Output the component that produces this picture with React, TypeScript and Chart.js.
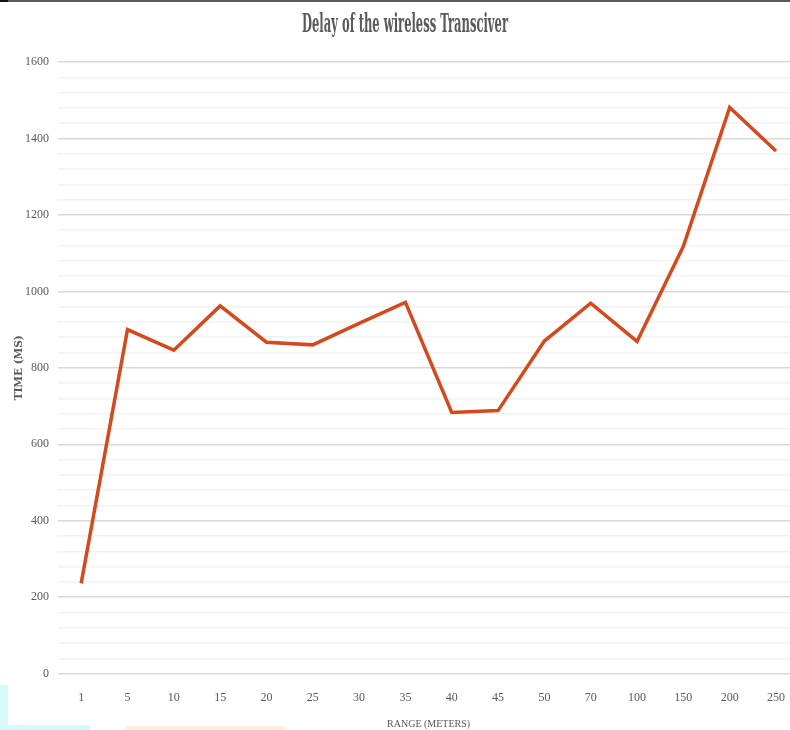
import React, { useEffect, useRef } from "react";
import { Chart, registerables } from "chart.js";

Chart.register(...registerables);

// Range in metres (category labels along the x axis)
const rangeLabels = ["1", "5", "10", "15", "20", "25", "30", "35", "40", "45", "50", "70", "100", "150", "200", "250"];
// Measured delay in ms for each range
const delayMs = [236, 900, 846, 962, 867, 860, 916, 971, 683, 688, 870, 969, 869, 1118, 1481, 1367];

const chartTitle = "Delay of the wireless Transciver";
const yAxisTitle = "TIME (MS)";
const xAxisTitle = "RANGE (METERS)";
const yMin = 0;
const yMax = 1600;
const yMajorStep = 200;
const yMinorStep = 40;

const textColor = "#595959";
const lineColor = "#d24b1e";

// Condensed heading drawn straight onto the canvas, squeezed horizontally
const condensedTitle = {
  id: "condensedTitle",
  afterDraw(chart: any) {
    const ctx = chart.ctx as CanvasRenderingContext2D;
    ctx.save();
    ctx.font = 'bold 24px "DejaVu Serif"';
    ctx.fillStyle = textColor;
    ctx.textAlign = "center";
    ctx.textBaseline = "middle";
    const w = ctx.measureText(chartTitle).width;
    ctx.translate(chart.width / 2 + 4, 25);
    ctx.scale(206 / w, 1.05);
    ctx.fillText(chartTitle, 0, 0);
    ctx.restore();
  },
};

export default function App() {
  const canvasRef = useRef<HTMLCanvasElement | null>(null);

  useEffect(() => {
    if (!canvasRef.current) return;
    const chart = new Chart(canvasRef.current, {
      type: "line",
      data: {
        labels: rangeLabels,
        datasets: [
          {
            data: delayMs,
            borderColor: lineColor,
            backgroundColor: lineColor,
            borderWidth: 3.5,
            pointRadius: 0,
            tension: 0,
            borderJoinStyle: "miter",
          },
        ],
      },
      options: {
        animation: false,
        responsive: false,
        maintainAspectRatio: false,
        layout: { padding: { top: 62, left: 8, right: 0, bottom: 0 } },
        plugins: {
          legend: { display: false },
          tooltip: { enabled: false },
          title: { display: false },
        },
        scales: {
          x: {
            type: "category",
            offset: true,
            grid: { display: false, drawTicks: false },
            border: { display: false },
            ticks: {
              color: textColor,
              font: { family: '"Liberation Serif"', size: 12 },
              padding: 17,
              maxRotation: 0,
              autoSkip: false,
            },
            title: {
              display: true,
              text: xAxisTitle,
              color: textColor,
              font: { family: '"Liberation Serif"', size: 10 },
              padding: { top: -4, bottom: 0 },
            },
          },
          y: {
            min: yMin,
            max: yMax,
            border: { display: false },
            grid: {
              drawTicks: false,
              lineWidth: 1.5,
              color: (c: any) =>
                c.tick && c.tick.value % yMajorStep === 0 ? "#d9d9d9" : "#f2f2f2",
            },
            afterFit: (scale: any) => {
              scale.width = 50;
            },
            ticks: {
              stepSize: yMinorStep,
              autoSkip: false,
              color: textColor,
              padding: 9,
              font: { family: '"Liberation Serif"', size: 12 },
              callback: (v: any) => (Number(v) % yMajorStep === 0 ? String(v) : ""),
            },
            title: {
              display: true,
              text: yAxisTitle,
              color: textColor,
              font: { family: '"DejaVu Serif"', size: 10.5, weight: "bold" },
              padding: { top: 5, bottom: 3 },
            },
          },
        },
      },
      plugins: [condensedTitle],
    });
    return () => chart.destroy();
  }, []);

  return (
    <div
      style={{
        position: "fixed",
        left: 0,
        top: 0,
        width: 790,
        height: 730,
        overflow: "hidden",
        background: "#ffffff",
      }}
    >
      <canvas
        ref={canvasRef}
        width={802}
        height={730}
        style={{ position: "absolute", left: 0, top: 0, width: 802, height: 730 }}
      />
      {/* frame edge along the top */}
      <div style={{ position: "absolute", left: 0, top: 0, width: 8, height: 2, background: "#111" }} />
      <div style={{ position: "absolute", left: 8, top: 0, width: 782, height: 2, background: "#5a5a5a" }} />
      {/* coloured slivers along the bottom-left */}
      <div style={{ position: "absolute", left: 0, top: 685, width: 8, height: 45, background: "#d6fafc" }} />
      <div style={{ position: "absolute", left: 0, top: 725, width: 90, height: 5, background: "#d6fafc" }} />
      <div style={{ position: "absolute", left: 125, top: 726, width: 160, height: 4, background: "#fdeee0" }} />
    </div>
  );
}
